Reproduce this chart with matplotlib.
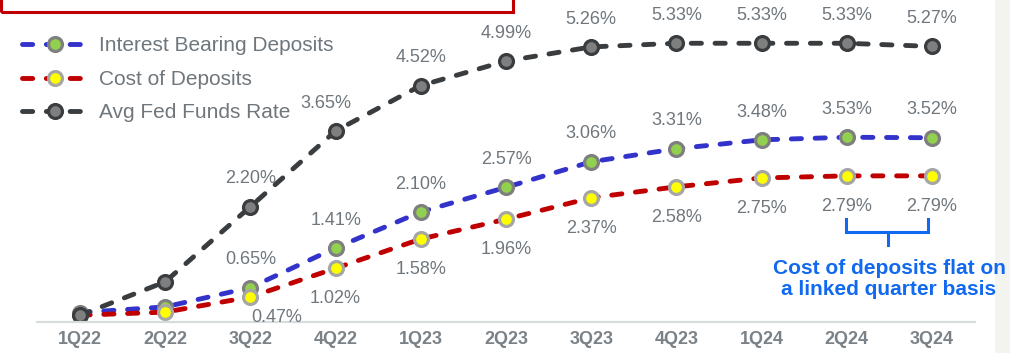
import matplotlib.pyplot as plt
from matplotlib.patches import Rectangle
from matplotlib.lines import Line2D

# quarters and rates (%)
quarters = ['1Q22', '2Q22', '3Q22', '4Q22', '1Q23', '2Q23', '3Q23', '4Q23', '1Q24', '2Q24', '3Q24']
int_bearing = [0.17, 0.28, 0.65, 1.41, 2.10, 2.57, 3.06, 3.31, 3.48, 3.53, 3.52]
cost_dep = [0.12, 0.18, 0.47, 1.02, 1.58, 1.96, 2.37, 2.58, 2.75, 2.79, 2.79]
fed_funds = [0.12, 0.76, 2.20, 3.65, 4.52, 4.99, 5.26, 5.33, 5.33, 5.33, 5.27]

# which points carry a value label
ibd_labeled = [2, 3, 4, 5, 6, 7, 8, 9, 10]
cod_labeled = [2, 3, 4, 5, 6, 7, 8, 9, 10]
fed_labeled = [2, 3, 4, 5, 6, 7, 8, 9, 10]

plt.rcParams['font.family'] = ['Liberation Sans', 'DejaVu Sans']
label_c = '#6f777d'
blue_note = '#1169f0'

W, H = 1010, 353
fig = plt.figure(figsize=(W / 100, H / 100), dpi=100)

# axes placed so that 0% sits on the grey baseline
x0 = 80 - 0.5 * 85.2
ax = fig.add_axes([x0 / W, (H - 321.5) / H, (11 * 85.2) / W, 321.5 / H])
ax.set_xlim(-0.5, 10.5)
ax.set_ylim(0, 321.5 / 52.2)

x = list(range(len(quarters)))
dash = dict(lw=3.5, dashes=(2.1, 2.8), dash_capstyle='round', markersize=10, markeredgewidth=2.3)

ax.plot(x, int_bearing, color='#3333cc', marker='o', markerfacecolor='#92d050',
        markeredgecolor='#7f7f7f', label='Interest Bearing Deposits', **dash)
ax.plot(x, cost_dep, color='#c00000', marker='o', markerfacecolor='#ffff00',
        markeredgecolor='#a6a6a6', label='Cost of Deposits', **dash)
ax.plot(x, fed_funds, color='#3a3d3f', marker='o', markerfacecolor='#7f7f7f',
        markeredgecolor='#3a3d3f', label='Avg Fed Funds Rate', **dash)

# value labels
for i in fed_labeled:
    dx = -7 if i == 3 else 0
    ax.annotate(f'{fed_funds[i]:.2f}%', (i, fed_funds[i]), xytext=(dx, 20),
                textcoords='offset points', ha='center', va='center', fontsize=13, color=label_c)
for i in ibd_labeled:
    ax.annotate(f'{int_bearing[i]:.2f}%', (i, int_bearing[i]), xytext=(0, 20),
                textcoords='offset points', ha='center', va='center', fontsize=13, color=label_c)
for i in cod_labeled:
    dx, dy = (19, -15) if i == 2 else (0, -22)
    ax.annotate(f'{cost_dep[i]:.2f}%', (i, cost_dep[i]), xytext=(dx, dy),
                textcoords='offset points', ha='center', va='center', fontsize=13, color=label_c)

# axis styling
for s in ['top', 'right', 'left']:
    ax.spines[s].set_visible(False)
ax.spines['bottom'].set_color('#d9dcdc')
ax.spines['bottom'].set_linewidth(1.6)
ax.set_yticks([])
ax.set_xticks(x)
ax.set_xticklabels(quarters, fontsize=13, fontweight='bold', color='#7a8288')
ax.tick_params(axis='x', length=0, pad=7)
ax.patch.set_alpha(0)

# legend
leg = ax.legend(loc='upper left', bbox_to_anchor=(14 / W, 1 - 28 / H), bbox_transform=fig.transFigure,
                frameon=False, fontsize=15, handlelength=3.1, handletextpad=0.6,
                labelspacing=0.7, numpoints=1, borderaxespad=0)
for t in leg.get_texts():
    t.set_color(label_c)

# note with bracket
bx = [846, 846, 928, 928]
by = [219, 232, 232, 219]
fig.add_artist(Line2D([v / W for v in bx], [1 - v / H for v in by], color=blue_note, lw=2.2,
                      solid_joinstyle='miter'))
fig.add_artist(Line2D([888 / W, 888 / W], [1 - 232 / H, 1 - 245 / H], color=blue_note, lw=2.2))
fig.text(889 / W, 1 - 279 / H, 'Cost of deposits flat on\na linked quarter basis', ha='center',
         va='center', fontsize=15, fontweight='bold', color=blue_note, linespacing=1.15)

# cropped title box and right page strip
fig.add_artist(Rectangle((1 / W, 1 - 12 / H), 512 / W, 30 / H, transform=fig.transFigure,
                         fill=False, edgecolor='#c00000', lw=2.2, clip_on=False))
fig.add_artist(Rectangle((995 / W, 0), 15 / W, 1, transform=fig.transFigure,
                         facecolor='#f3f3ef', edgecolor='none'))

fig.savefig('out.png', dpi=100)
